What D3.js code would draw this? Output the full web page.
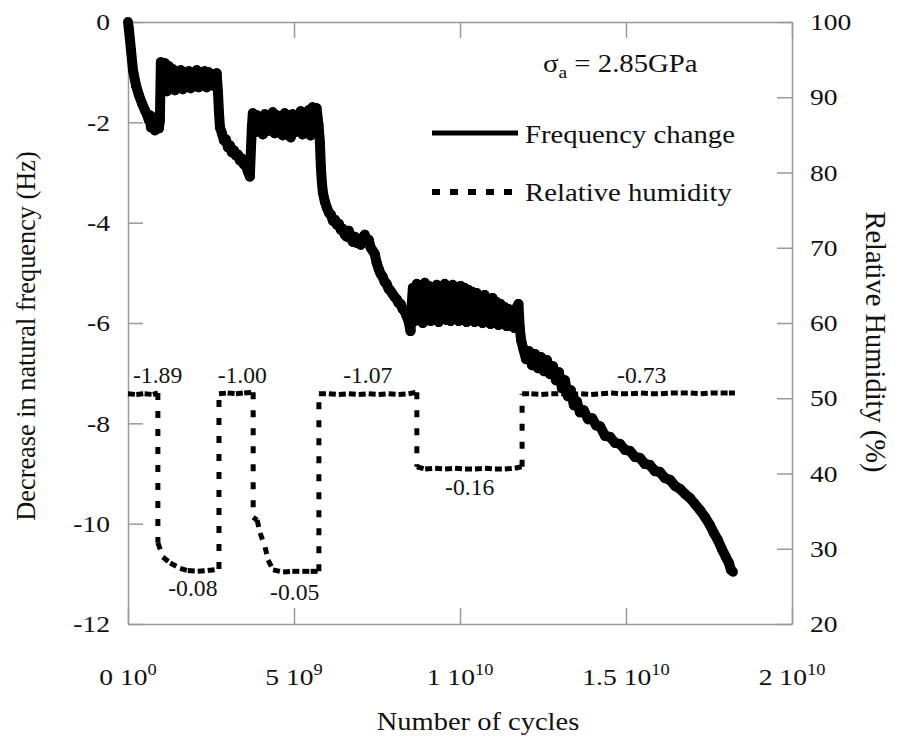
<!DOCTYPE html>
<html>
<head>
<meta charset="utf-8">
<script src="https://cdn.jsdelivr.net/npm/d3@7"></script>
<style>
  html, body { margin: 0; padding: 0; background: #fff; }
  svg { display: block; }
  text { font-family: "Liberation Serif", "Times New Roman", serif; fill: #111; }
</style>
</head>
<body>
<script>
// ---------------- DATA ----------------
// Number of cycles in units of 1e9, decrease in natural frequency in Hz
const freqCycles = [
  0.00,0.03,0.09,0.15,0.24,0.33,0.42,0.51,0.57,0.63,0.66,0.69,0.75,0.81,0.87,0.93,0.96,
  0.99,1.05,1.11,1.17,1.23,1.29,1.35,1.41,1.47,1.53,1.59,1.65,1.71,1.77,1.83,1.89,1.95,2.01,2.07,2.13,2.19,2.25,2.31,2.37,2.43,2.49,2.55,2.61,2.67,
  2.71,2.74,2.77,2.83,2.89,2.95,3.01,3.07,3.13,3.19,3.25,3.31,3.37,3.43,3.49,3.55,3.61,3.67,3.73,
  3.76,3.82,3.88,3.94,4.00,4.06,4.12,4.18,4.24,4.30,4.36,4.42,4.48,4.54,4.60,4.66,4.72,4.78,4.84,4.90,4.96,5.02,5.08,5.14,5.20,5.26,5.32,5.38,5.44,5.50,5.56,5.62,5.68,5.74,
  5.78,5.81,5.84,5.87,5.93,5.99,6.05,6.11,6.17,6.23,6.29,6.35,6.41,6.47,6.53,6.59,6.65,6.71,6.77,6.83,6.89,6.95,7.01,7.07,7.13,7.19,7.25,7.31,7.37,7.43,7.49,7.55,7.61,7.67,7.73,7.79,7.85,7.91,7.97,8.03,8.09,8.15,8.21,8.27,8.33,8.39,8.45,8.51,
  8.55,8.58,8.64,8.70,8.76,8.82,8.88,8.94,9.00,9.06,9.12,9.18,9.24,9.30,9.36,9.42,9.48,9.54,9.60,9.66,9.72,9.78,9.84,9.90,9.96,
  10.02,10.08,10.14,10.20,10.26,10.32,10.38,10.44,10.50,10.56,10.62,10.68,10.74,10.80,10.86,10.92,10.98,11.04,11.10,11.16,11.22,11.28,11.34,11.40,11.46,11.52,11.58,11.64,11.70,11.76,11.80,
  11.84,11.90,11.99,12.08,12.17,12.26,12.35,12.44,12.53,12.62,12.71,12.80,12.89,12.98,13.07,13.16,13.25,13.34,13.43,13.52,13.61,13.73,13.86,13.98,14.10,14.22,
  14.37,14.52,14.67,14.82,14.97,15.12,15.27,15.42,15.57,15.72,15.87,16.02,16.17,16.33,16.48,16.63,16.78,16.93,17.08,17.23,17.38,17.53,17.65,17.77,17.89,18.01,18.10,18.16,18.22
];
const freqShift = [
  0.00,-0.16,-0.56,-0.96,-1.26,-1.46,-1.62,-1.76,-1.84,-1.96,-1.86,-2.10,-1.90,-2.16,-1.92,-2.12,-1.96,
  -0.80,-1.36,-0.82,-1.38,-0.88,-1.32,-0.94,-1.36,-1.00,-1.30,-0.96,-1.34,-1.02,-1.28,-0.98,-1.32,-1.02,-1.28,-0.96,-1.30,-1.02,-1.26,-0.98,-1.30,-1.00,-1.26,-1.04,-1.28,-1.02,
  -1.40,-1.80,-2.10,-2.22,-2.36,-2.34,-2.50,-2.46,-2.60,-2.56,-2.66,-2.64,-2.76,-2.72,-2.84,-2.86,-2.98,-3.08,-2.10,
  -1.82,-2.20,-1.86,-2.16,-1.90,-2.24,-1.84,-2.18,-1.88,-2.14,-1.80,-2.22,-1.86,-2.18,-1.90,-2.26,-1.82,-2.16,-1.86,-2.30,-1.84,-2.20,-1.88,-2.16,-1.78,-2.24,-1.84,-2.20,-1.76,-2.26,-1.70,-2.14,-1.72,-2.06,
  -2.40,-2.90,-3.20,-3.40,-3.58,-3.70,-3.80,-3.84,-3.96,-3.94,-4.04,-4.02,-4.14,-4.12,-4.24,-4.28,-4.16,-4.30,-4.38,-4.28,-4.40,-4.34,-4.44,-4.30,-4.24,-4.36,-4.34,-4.50,-4.56,-4.62,-4.80,-4.92,-5.02,-5.08,-5.18,-5.22,-5.32,-5.36,-5.42,-5.48,-5.52,-5.60,-5.62,-5.72,-5.76,-5.86,-5.96,-6.16,
  -5.60,-5.30,-5.96,-5.22,-5.92,-5.30,-6.00,-5.20,-5.90,-5.26,-5.96,-5.34,-5.92,-5.24,-5.98,-5.30,-5.90,-5.22,-5.94,-5.28,-5.96,-5.24,-5.92,-5.32,-5.96,
  -5.26,-5.94,-5.30,-5.98,-5.34,-5.92,-5.38,-5.98,-5.40,-5.96,-5.46,-6.00,-5.44,-5.98,-5.52,-6.02,-5.50,-6.00,-5.58,-6.04,-5.62,-6.02,-5.68,-6.06,-5.72,-6.06,-5.76,-6.10,-5.70,-5.62,-6.10,
  -6.34,-6.50,-6.72,-6.56,-6.84,-6.62,-6.90,-6.68,-6.96,-6.74,-7.02,-6.86,-7.14,-6.98,-7.30,-7.14,-7.46,-7.34,-7.64,-7.56,-7.78,-7.74,-7.92,-7.90,-8.04,-8.06,
  -8.25,-8.27,-8.39,-8.41,-8.53,-8.55,-8.67,-8.69,-8.81,-8.83,-8.95,-8.97,-9.09,-9.13,-9.25,-9.31,-9.41,-9.49,-9.61,-9.73,-9.87,-10.03,-10.19,-10.33,-10.51,-10.67,-10.78,-10.92,-10.96
];
const humCycles = [
  0.00,0.25,0.50,0.75,0.90,
  0.90,1.05,1.27,1.57,1.80,2.10,2.40,2.74,
  2.74,3.00,3.25,3.50,3.77,
  3.77,3.89,3.98,4.13,4.22,4.37,4.67,4.95,5.25,5.50,5.75,
  5.75,6.05,6.35,6.65,6.95,7.25,7.55,7.85,8.15,8.45,8.70,
  8.70,8.95,9.25,9.55,9.85,10.15,10.45,10.75,11.05,11.35,11.65,11.87,
  11.87,12.15,12.45,12.75,13.05,13.35,13.65,13.95,14.25,14.55,14.85,15.15,15.45,15.75,16.05,16.35,16.65,16.95,17.25,17.55,17.85,18.10,18.28
];
const humValues = [
  50.6,50.5,50.6,50.5,50.7,
  30.8,28.9,28.1,27.4,27.1,27.0,27.1,27.3,
  50.6,50.7,50.6,50.7,50.8,
  34.2,33.8,32.1,30.2,28.5,27.2,26.9,27.0,27.0,27.0,27.0,
  50.6,50.6,50.5,50.6,50.5,50.6,50.5,50.6,50.5,50.6,50.8,
  40.9,40.6,40.7,40.6,40.7,40.6,40.6,40.7,40.6,40.6,40.7,40.9,
  50.6,50.6,50.5,50.6,50.6,50.5,50.6,50.5,50.6,50.7,50.6,50.6,50.7,50.6,50.6,50.7,50.7,50.7,50.6,50.7,50.7,50.7,50.7
];
const xTickValues = [0, 5, 10, 15, 20];
const xTickMantissa = ["0 10", "5 10", "1 10", "1.5 10", "2 10"];
const xTickExponent = ["0", "9", "10", "10", "10"];
const yLeftTicks = [0, -2, -4, -6, -8, -10, -12];
const yLeftLabels = ["0", "-2", "-4", "-6", "-8", "-10", "-12"];
const yRightTicks = [100, 90, 80, 70, 60, 50, 40, 30, 20];
const annotations = [
  {text: "-1.89", c: 0.15, v: -7.20},
  {text: "-1.00", c: 2.70, v: -7.20},
  {text: "-1.07", c: 6.48, v: -7.20},
  {text: "-0.73", c: 14.73, v: -7.20},
  {text: "-0.08", c: 1.21, v: -11.44},
  {text: "-0.05", c: 4.28, v: -11.52},
  {text: "-0.16", c: 9.55, v: -9.43}
];
const legendLabels = ["Frequency change", "Relative humidity"];

// ---------------- CHART ----------------
const W = 899, H = 740;
const L = 128, R = 792, T = 22, B = 624;
const axisColor = "#9a9a9a";

const svg = d3.select("body").append("svg").attr("width", W).attr("height", H);

const x = d3.scaleLinear().domain([0, 20]).range([L, R]);
const yL = d3.scaleLinear().domain([-12, 0]).range([B, T]);
const yR = d3.scaleLinear().domain([20, 100]).range([B, T]);

function stretchTexts(sel, sx) {
  sel.each(function() {
    const t = d3.select(this);
    const tx = +t.attr("x") || 0, ty = +t.attr("y") || 0;
    t.attr("x", 0).attr("y", 0).attr("transform", `translate(${tx},${ty}) scale(${sx},1)`);
  });
}
function styleAxis(g) {
  g.select(".domain").attr("stroke", axisColor).attr("stroke-width", 1.5);
  g.selectAll(".tick line").attr("stroke", axisColor).attr("stroke-width", 1.5);
  g.selectAll(".tick text").attr("font-size", 24).attr("fill", "#111")
    .style("font-family", '"Liberation Serif", "Times New Roman", serif');
}

// axes
const gL = svg.append("g").attr("transform", `translate(${L},0)`)
  .call(d3.axisLeft(yL).tickValues(yLeftTicks).tickFormat((d, i) => yLeftLabels[i])
    .tickSize(-15).tickSizeOuter(0).tickPadding(18));
styleAxis(gL); stretchTexts(gL.selectAll(".tick text"), 1.15);

const gR = svg.append("g").attr("transform", `translate(${R},0)`)
  .call(d3.axisRight(yR).tickValues(yRightTicks).tickFormat(d3.format("d"))
    .tickSize(-15).tickSizeOuter(0).tickPadding(18));
styleAxis(gR); stretchTexts(gR.selectAll(".tick text"), 1.15);

const gB = svg.append("g").attr("transform", `translate(0,${B})`)
  .call(d3.axisBottom(x).tickValues(xTickValues).tickFormat("").tickSize(-16).tickSizeOuter(0));
styleAxis(gB);
const gT = svg.append("g").attr("transform", `translate(0,${T})`)
  .call(d3.axisTop(x).tickValues(xTickValues).tickFormat("").tickSize(-16).tickSizeOuter(0));
styleAxis(gT);

// bottom tick labels with superscripts
xTickValues.forEach((v, i) => {
  const t = svg.append("text")
    .attr("transform", `translate(${x(v)},685) scale(1.15,1)`)
    .attr("text-anchor", "middle").attr("font-size", 24);
  t.append("tspan").text(xTickMantissa[i]);
  t.append("tspan").attr("font-size", 16).attr("dy", -10).text(xTickExponent[i]);
});

// axis titles
svg.append("text").attr("transform", `translate(478,730) scale(1.14,1)`)
  .attr("text-anchor", "middle").attr("font-size", 25).text("Number of cycles");
svg.append("text").attr("transform", `translate(35,336) rotate(-90)`)
  .attr("text-anchor", "middle").attr("font-size", 26.3).text("Decrease in natural frequency (Hz)");
svg.append("text").attr("transform", `translate(866,342) rotate(90)`)
  .attr("text-anchor", "middle").attr("font-size", 28.5).text("Relative Humidity (%)");

// humidity (dotted): each sample-to-sample segment restarts its dash pattern
const humPts = humCycles.map((c, i) => [x(c), yR(humValues[i])]);
svg.append("g").selectAll("line").data(d3.pairs(humPts)).join("line")
  .attr("x1", d => d[0][0]).attr("y1", d => d[0][1])
  .attr("x2", d => d[1][0]).attr("y2", d => d[1][1])
  .attr("stroke", "#000").attr("stroke-width", 5).attr("stroke-dasharray", "7,11");

// frequency change (solid thick), drawn sample to sample so the noisy bands fill solid
const freqPts = freqCycles.map((c, i) => [x(c), yL(freqShift[i])]);
svg.append("g").selectAll("line").data(d3.pairs(freqPts)).join("line")
  .attr("x1", d => d[0][0]).attr("y1", d => d[0][1])
  .attr("x2", d => d[1][0]).attr("y2", d => d[1][1])
  .attr("stroke", "#000").attr("stroke-width", 10).attr("stroke-linecap", "round");

// annotations
annotations.forEach(a => {
  svg.append("text").attr("transform", `translate(${x(a.c)},${yL(a.v)}) scale(1.03,1)`)
    .attr("font-size", 23).text(a.text);
});

// sigma label
const sg = svg.append("text").attr("transform", `translate(543,72) scale(1.15,1)`).attr("font-size", 25);
sg.append("tspan").text("σ");
sg.append("tspan").attr("font-size", 17).attr("dy", 6).text("a");
sg.append("tspan").attr("dy", -6).text(" = 2.85GPa");

// legend
svg.append("line").attr("x1", 432).attr("x2", 518).attr("y1", 133).attr("y2", 133)
  .attr("stroke", "#000").attr("stroke-width", 5);
svg.append("line").attr("x1", 432).attr("x2", 518).attr("y1", 192).attr("y2", 192)
  .attr("stroke", "#000").attr("stroke-width", 6).attr("stroke-dasharray", "8,10");
svg.append("text").attr("transform", `translate(525,143) scale(1.15,1)`).attr("font-size", 25).text(legendLabels[0]);
svg.append("text").attr("transform", `translate(525,201) scale(1.15,1)`).attr("font-size", 25).text(legendLabels[1]);
</script>
</body>
</html>
